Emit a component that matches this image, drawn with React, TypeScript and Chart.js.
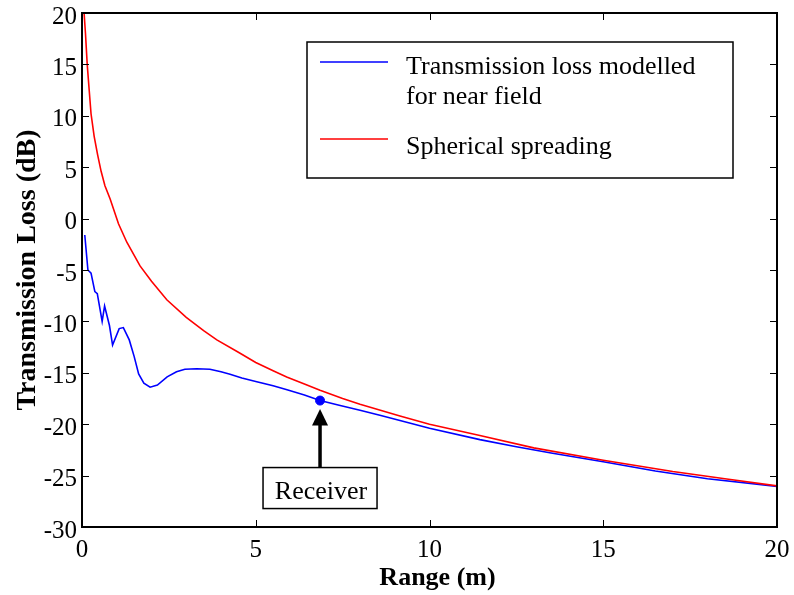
import React, { useEffect, useRef } from "react";
import { Chart, registerables } from "chart.js";

Chart.register(...registerables);

// ---- data ----
const nearFieldRange = [0.08, 0.17, 0.26, 0.37, 0.44, 0.58, 0.65, 0.79, 0.88, 1.07, 1.19, 1.36, 1.5, 1.63, 1.78, 1.96, 2.17, 2.45, 2.72, 2.96, 3.3, 3.68, 4.0, 4.26, 4.6, 5.0, 5.5, 5.9, 6.4, 6.85, 7.4, 8.0, 8.6, 9.15, 10, 11.45, 12.5, 13.5, 15, 16.5, 18, 20];
const nearFieldLoss = [-1.6, -5.0, -5.3, -7.1, -7.3, -10.0, -8.5, -10.4, -12.3, -10.7, -10.6, -11.8, -13.4, -15.1, -16.0, -16.4, -16.2, -15.4, -14.9, -14.65, -14.6, -14.65, -14.9, -15.15, -15.5, -15.85, -16.25, -16.65, -17.15, -17.7, -18.15, -18.65, -19.15, -19.65, -20.4, -21.5, -22.2, -22.8, -23.65, -24.55, -25.3, -26.05];

const sphericalRange = [0.06, 0.1, 0.15, 0.2, 0.26, 0.35, 0.45, 0.55, 0.66, 0.81, 1.05, 1.29, 1.67, 2.0, 2.44, 3.0, 3.5, 3.88, 4.5, 5.0, 5.5, 5.89, 6.4, 6.85, 7.5, 8.0, 9.15, 10, 11.45, 13, 15, 17, 18.5, 20];
const sphericalLoss = [20, 18, 15, 12.8, 10.2, 8.0, 6.2, 4.6, 3.2, 1.9, -0.5, -2.3, -4.6, -6.1, -7.9, -9.6, -10.9, -11.8, -13.0, -14.0, -14.8, -15.4, -16.1, -16.7, -17.5, -18.05, -19.2, -20.0, -21.1, -22.3, -23.5, -24.6, -25.3, -26.0];

const receiverRange = [6.85];
const receiverLoss = [-17.7];
const receiverLabel = "Receiver";

const xTickValues = [0, 5, 10, 15, 20];
const yTickValues = [-30, -25, -20, -15, -10, -5, 0, 5, 10, 15, 20];

const seriesNames = [["Transmission loss modelled", "for near field"], ["Spherical spreading"]];
const seriesColors = ["#0000ff", "#ff0000"];
const xTitle = "Range (m)";
const yTitle = "Transmission Loss (dB)";

const FONT = "'Liberation Serif', 'Times New Roman', serif";

const decorPlugin = {
  id: "decor",
  afterDatasetsDraw(chart: any) {
    const { ctx, chartArea: a, scales } = chart;
    const xs = scales.x;
    const ys = scales.y;
    ctx.save();
    // inward ticks on four sides
    ctx.strokeStyle = "#000";
    ctx.lineWidth = 1;
    const tl = 7;
    xTickValues.forEach((v) => {
      const px = Math.round(xs.getPixelForValue(v)) + 0.5;
      ctx.beginPath();
      ctx.moveTo(px, a.bottom);
      ctx.lineTo(px, a.bottom - tl);
      ctx.moveTo(px, a.top);
      ctx.lineTo(px, a.top + tl);
      ctx.stroke();
    });
    yTickValues.forEach((v) => {
      const py = Math.round(ys.getPixelForValue(v)) + 0.5;
      ctx.beginPath();
      ctx.moveTo(a.left, py);
      ctx.lineTo(a.left + tl, py);
      ctx.moveTo(a.right, py);
      ctx.lineTo(a.right - tl, py);
      ctx.stroke();
    });
    // frame
    ctx.lineWidth = 2;
    ctx.strokeRect(a.left, a.top, a.right - a.left, a.bottom - a.top);

    // x axis title
    ctx.fillStyle = "#000";
    ctx.font = `bold 26px ${FONT}`;
    ctx.textAlign = "center";
    ctx.textBaseline = "alphabetic";
    ctx.fillText(xTitle, (a.left + a.right) / 2 + 8, a.bottom + 58);

    // legend
    const lx = a.right - 470;
    const ly = a.top + 29;
    const lw = 426;
    const lh = 136;
    ctx.fillStyle = "#fff";
    ctx.fillRect(lx, ly, lw, lh);
    ctx.lineWidth = 1.5;
    ctx.strokeStyle = "#000";
    ctx.strokeRect(lx, ly, lw, lh);
    ctx.font = `26px ${FONT}`;
    ctx.textBaseline = "alphabetic";
    ctx.textAlign = "left";
    const entries = [
      { lineY: ly + 20, baselines: [ly + 31.5, ly + 61.5] },
      { lineY: ly + 97, baselines: [ly + 111.5] },
    ];
    entries.forEach((e, i) => {
      ctx.beginPath();
      ctx.strokeStyle = seriesColors[i];
      ctx.lineWidth = 1.3;
      ctx.moveTo(lx + 13, e.lineY);
      ctx.lineTo(lx + 81, e.lineY);
      ctx.stroke();
      ctx.fillStyle = "#000";
      seriesNames[i].forEach((t, j) => ctx.fillText(t, lx + 99, e.baselines[j]));
    });

    // receiver arrow + label box
    const rx = xs.getPixelForValue(receiverRange[0]);
    const ry = ys.getPixelForValue(receiverLoss[0]);
    ctx.fillStyle = "#000";
    ctx.strokeStyle = "#000";
    ctx.beginPath();
    ctx.moveTo(rx, ry + 8.5);
    ctx.lineTo(rx - 8, ry + 25);
    ctx.lineTo(rx + 8, ry + 25);
    ctx.closePath();
    ctx.fill();
    ctx.lineWidth = 3.5;
    ctx.beginPath();
    ctx.moveTo(rx, ry + 22);
    ctx.lineTo(rx, ry + 67);
    ctx.stroke();
    const bx = rx - 57;
    const by = ry + 67;
    ctx.fillStyle = "#fff";
    ctx.fillRect(bx, by, 114, 41);
    ctx.lineWidth = 1.5;
    ctx.strokeRect(bx, by, 114, 41);
    ctx.fillStyle = "#000";
    ctx.textAlign = "center";
    ctx.font = `26px ${FONT}`;
    ctx.fillText(receiverLabel, rx + 1, by + 31);
    ctx.restore();
  },
};

export default function App() {
  const ref = useRef<HTMLCanvasElement | null>(null);
  useEffect(() => {
    if (!ref.current) return;
    const toPts = (xs: number[], ys: number[]) => xs.map((x, i) => ({ x, y: ys[i] }));
    const chart = new Chart(ref.current, {
      type: "scatter",
      data: {
        datasets: [
          {
            label: seriesNames[1].join(" "),
            data: toPts(sphericalRange, sphericalLoss),
            showLine: true,
            borderColor: seriesColors[1],
            borderWidth: 1.6,
            pointRadius: 0,
            tension: 0,
          },
          {
            label: seriesNames[0].join(" "),
            data: toPts(nearFieldRange, nearFieldLoss),
            showLine: true,
            borderColor: seriesColors[0],
            borderWidth: 1.6,
            pointRadius: 0,
            tension: 0,
          },
          {
            label: receiverLabel,
            data: toPts(receiverRange, receiverLoss),
            showLine: false,
            pointRadius: 4.5,
            backgroundColor: seriesColors[0],
            borderColor: seriesColors[0],
          },
        ],
      },
      options: {
        responsive: false,
        animation: false,
        devicePixelRatio: 1,
        layout: { padding: { top: 13, right: 17, left: 0, bottom: 0 } },
        plugins: { legend: { display: false }, tooltip: { enabled: false } },
        scales: {
          x: {
            type: "linear",
            min: 0,
            max: 20,
            grid: { display: false, drawTicks: false },
            border: { display: false },
            afterBuildTicks: (s: any) => {
              s.ticks = xTickValues.map((v) => ({ value: v }));
            },
            afterFit: (s: any) => {
              s.height = 68;
              s.paddingLeft = 0;
              s.paddingRight = 0;
              s.paddingTop = 0;
              s.paddingBottom = 0;
            },
            ticks: { color: "#000", padding: 8, font: { family: FONT, size: 25 }, maxRotation: 0 },
            title: { display: false },
          },
          y: {
            type: "linear",
            min: -30,
            max: 20,
            grid: { display: false, drawTicks: false },
            border: { display: false },
            afterBuildTicks: (s: any) => {
              s.ticks = yTickValues.map((v) => ({ value: v }));
            },
            afterFit: (s: any) => {
              s.width = 82;
              s.paddingLeft = 0;
              s.paddingRight = 0;
              s.paddingTop = 0;
              s.paddingBottom = 0;
            },
            ticks: { color: "#000", padding: 5, labelOffset: 4, font: { family: FONT, size: 25 } },
            title: {
              display: true,
              text: yTitle,
              color: "#000",
              font: { family: FONT, size: 28, weight: "bold" },
              padding: { top: 10.5, bottom: 0 },
            },
          },
        },
      },
      plugins: [decorPlugin],
    });
    return () => chart.destroy();
  }, []);
  return (
    <div style={{ position: "absolute", left: 0, top: 0, width: 794, height: 595, background: "#fff" }}>
      <canvas ref={ref} width={794} height={595} />
    </div>
  );
}
